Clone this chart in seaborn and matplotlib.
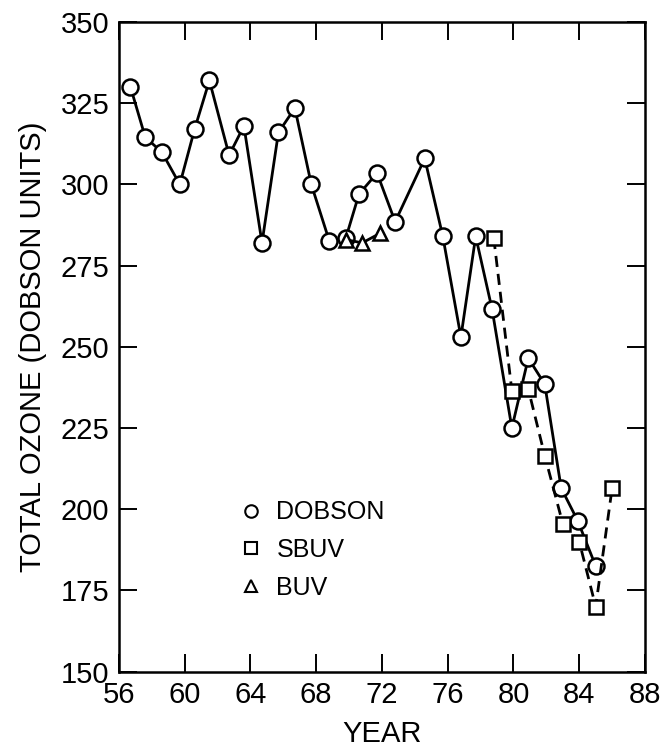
import matplotlib
matplotlib.use("Agg")
import matplotlib.pyplot as plt
import seaborn as sns
from matplotlib.lines import Line2D

# Data (October mean total ozone)
dobson_year = [56.7, 57.6, 58.6, 59.7, 60.6, 61.5, 62.7, 63.6, 64.7, 65.7,
               66.7, 67.7, 68.8, 69.8, 70.6, 71.7, 72.8, 74.6, 75.7, 76.8,
               77.7, 78.7, 79.9, 80.9, 81.9, 82.9, 83.9, 85.0]
dobson_ozone = [330, 314.5, 310, 300, 317, 332, 309, 318, 282, 316,
                323.5, 300, 282.5, 283.5, 297, 303.5, 288.5, 308, 284, 253,
                284, 261.5, 225, 246.5, 238.5, 206.5, 196.5, 182.5]
sbuv_year = [78.8, 79.9, 80.9, 81.9, 83.0, 84.0, 85.0, 86.0]
sbuv_ozone = [283.5, 236.5, 237, 216.5, 195.5, 190, 170, 206.5]
buv_year = [69.8, 70.8, 71.9]
buv_ozone = [283, 282, 285]

x_ticks = list(range(56, 89, 4))
y_ticks = list(range(150, 351, 25))

sns.set_style("ticks", {"text.color": "black", "axes.labelcolor": "black",
                        "xtick.color": "black", "ytick.color": "black",
                        "axes.edgecolor": "black"})
plt.rcParams['font.family'] = ['Liberation Sans', 'DejaVu Sans']

fig = plt.figure(figsize=(6.61, 7.47), dpi=100)
ax = fig.add_axes([0.18, 0.101, 0.7958, 0.8695])

line_kw = dict(color="black", linewidth=2.0, markerfacecolor="white",
               markeredgecolor="black", markeredgewidth=1.8)

sns.lineplot(x=dobson_year, y=dobson_ozone, ax=ax, marker="o",
             markersize=11.5, linestyle="-", **line_kw)
sns.lineplot(x=sbuv_year, y=sbuv_ozone, ax=ax, marker="s",
             markersize=10, linestyle=(0, (4, 2.5)), **line_kw)
sns.lineplot(x=buv_year, y=buv_ozone, ax=ax, marker="^",
             markersize=10, linestyle="-", **line_kw)

ax.set_xlim(56, 88)
ax.set_ylim(150, 350)
ax.set_xticks(x_ticks)
ax.set_yticks(y_ticks)
ax.tick_params(direction="in", length=13, width=1.4, labelsize=21,
               top=True, right=True, pad=7, colors="black")
for sp in ax.spines.values():
    sp.set_linewidth(1.8)
    sp.set_color("black")

ax.set_xlabel("YEAR", fontsize=21, labelpad=8)
ax.set_ylabel("TOTAL OZONE (DOBSON UNITS)", fontsize=21, labelpad=10)

handles = [
    Line2D([], [], linestyle="none", marker="o", markersize=9,
           markerfacecolor="white", markeredgecolor="black", markeredgewidth=1.5),
    Line2D([], [], linestyle="none", marker="s", markersize=8.5,
           markerfacecolor="white", markeredgecolor="black", markeredgewidth=1.5),
    Line2D([], [], linestyle="none", marker="^", markersize=8.5,
           markerfacecolor="white", markeredgecolor="black", markeredgewidth=1.5),
]
ax.legend(handles, ["DOBSON", "SBUV", "BUV"], loc="center left",
          bbox_to_anchor=(0.19, 0.187), frameon=False, fontsize=18,
          handlelength=0.8, handletextpad=0.6, labelspacing=0.55)

fig.savefig("out.png", dpi=100)
